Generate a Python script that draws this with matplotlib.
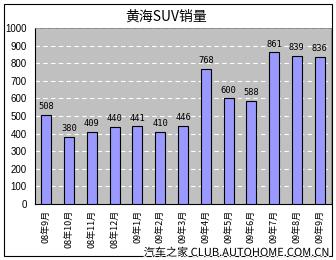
import matplotlib
matplotlib.use("Agg")
import matplotlib.pyplot as plt
import matplotlib.patheffects as pe
from matplotlib.patches import Rectangle

plt.rcParams['font.family'] = ['Noto Sans CJK SC', 'DejaVu Sans']

# data
months = ["08年9月", "08年10月", "08年11月", "08年12月", "09年1月", "09年2月",
          "09年3月", "09年4月", "09年5月", "09年6月", "09年7月", "09年8月", "09年9月"]
sales = [508, 380, 409, 440, 441, 410, 446, 768, 600, 588, 861, 839, 836]
yticks = list(range(0, 1001, 100))

W, H = 336, 260
fig = plt.figure(figsize=(W / 100, H / 100), dpi=100)
fig.patch.set_facecolor("white")

# outer frame
fig.patches.append(Rectangle((4 / W, 1 - 256 / H), 328 / W, 252 / H,
                             transform=fig.transFigure, fill=False,
                             edgecolor="black", linewidth=0.8))

# plot area in pixels
left, right, top, bottom = 35, 331, 28, 204
ax = fig.add_axes([left / W, 1 - bottom / H, (right - left) / W, (bottom - top) / H])
ax.set_facecolor("#c0c0c0")

x = range(len(months))
bars = ax.bar(x, sales, width=0.44, color="#9999ff", edgecolor="black",
              linewidth=0.8, zorder=3)

for xi, v in zip(x, sales):
    ax.text(xi, v + 22, str(v), ha="center", va="bottom", fontsize=6.3,
            family="DejaVu Sans Mono", zorder=4)

ax.set_xlim(-0.5, len(months) - 0.5)
ax.set_ylim(0, 1000)
ax.set_yticks(yticks)
ax.set_yticklabels([str(t) for t in yticks], fontsize=7, family="Liberation Sans")
ax.yaxis.grid(True, color="white", linestyle=(0, (4, 3)), linewidth=0.8, zorder=1)
ax.set_axisbelow(True)

ax.set_xticks(list(x))
ax.set_xticklabels(months, rotation=90, fontsize=6.5, va="top")
ax.tick_params(axis="both", length=0, pad=4)
ax.tick_params(axis="y", pad=6)

for s in ["top", "right"]:
    ax.spines[s].set_color("#808080")
    ax.spines[s].set_linewidth(0.6)
for s in ["left", "bottom"]:
    ax.spines[s].set_color("black")
    ax.spines[s].set_linewidth(0.8)

fig.text(166 / W, 1 - 17 / H, "黄海SUV销量", ha="center", va="center", fontsize=10)

fig.text(329 / W, 1 - 256 / H, "汽车之家 CLUB.AUTOHOME.COM.CN", ha="right", va="baseline",
         fontsize=8, family=["Noto Sans CJK SC", "DejaVu Sans"], color="black",
         path_effects=[pe.withStroke(linewidth=1.5, foreground="white")])

fig.savefig("out.png", dpi=100)
